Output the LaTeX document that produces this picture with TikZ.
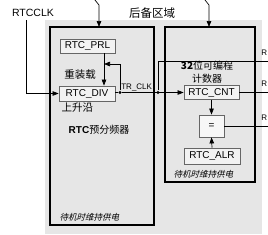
\documentclass[tikz,border=0pt]{standalone}
\usepackage{fontspec}
\setmainfont{Liberation Sans}
\newfontfamily\cjk{Noto Sans CJK SC}
\newfontfamily\cjkit[FakeSlant=0.25]{Noto Sans CJK SC}
\usetikzlibrary{arrows.meta}

\definecolor{bggray}{HTML}{E6E6E6}
\tikzset{
  reg/.style={draw=black!60,fill=black!5,line width=0.8pt,inner sep=0pt,minimum height=14pt,font=\fontsize{10}{12}\selectfont},
  bigbox/.style={draw=black,line width=1.6pt},
  arr/.style={-{Triangle[length=6pt,width=4.5pt]}},
  dot/.style={circle,fill=black,inner sep=0pt,minimum size=3.4pt},
  zh/.style={font=\fontsize{10.5}{12}\selectfont\cjk},
  note/.style={font=\fontsize{8.5}{10}\selectfont\cjkit}
}

\begin{document}
\begin{tikzpicture}[x=1pt,y=-1pt,line width=0.7pt]
  \useasboundingbox (0,0) rectangle (268,234);
  \fill[bggray](45,20) rectangle (262,234);
  \draw[bigbox,fill=bggray](50,27) rectangle (154,225);
  \draw[bigbox,fill=bggray](165,27) rectangle (255,182);
  \node[font=\fontsize{11.5}{13}\selectfont\cjk] (backup) at (152,13){后备区域};
  \draw[arr](95,0)--(99,5)--(99,27);
  \draw[arr](205,0)--(209,5)--(209,27);

  % prescaler
  \node[reg,minimum width=55pt] (prl) at (87.5,46){RTC\_PRL};
  \node[reg,minimum width=56pt,minimum height=15pt] (div) at (87,93.5){RTC\_DIV};
  \node[zh] (reload) at (80,75){重装载};
  \node[zh,anchor=west] (edge) at (58,108){上升沿};
  \node[font=\fontsize{10}{12}\selectfont] (pname) at (99,130){\textbf{RTC}{\cjk 预分频器}};
  \node[note,anchor=west] (lnote) at (56,217){待机时维持供电};
  \node[font=\fontsize{10.5}{12}\selectfont] (rtcclk) at (33,13){RTCCLK};
  \coordinate (fb) at (104,64);
  \draw[arr]([xshift=-7pt]rtcclk.south)|-(div.west);
  \draw[arr](prl.south-|fb)--(div.north-|fb);

  % counter
  \node[reg,minimum width=55pt] (cnt) at (211.5,92.5){RTC\_CNT};
  \node[reg,minimum width=25pt,minimum height=22pt,fill=black!3] (cmp) at (211.5,126){=};
  \node[reg,minimum width=56pt,minimum height=16pt] (alr) at (212,156){RTC\_ALR};
  \node[align=center,font=\fontsize{10}{12.5}\selectfont\cjk] (cname) at (207,72){\textbf{32}位可编程\\计数器};
  \node[note,anchor=west] (rnote) at (170,174){待机时维持供电};
  \draw[arr](cnt.south)--(cmp.north);
  \draw[arr](alr.north)--(cmp.south);

  % TR_CLK
  \node[dot] (d1) at (120,92.5){};
  \node[dot] (d2) at (158,92.5){};
  \node[font=\fontsize{8}{9}\selectfont,anchor=south west,inner sep=1pt] (trclk) at (120,92.5){TR\_CLK};
  \draw(div.east|-d1)--(d1);
  \draw[arr](d1)--(cnt.west);
  \draw[arr](d1)|-(fb);

  % outputs
  \coordinate (o1) at (268,61);
  \coordinate (o2) at (268,92.5);
  \coordinate (o3) at (268,126);
  \draw(d2)|-(o1);
  \draw(cnt.east)--(o2);
  \draw(cmp.east)--(o3);
  \foreach \y/\n in {53/s1,84/s2,118/s3}
    \node[font=\fontsize{8}{9}\selectfont,anchor=west,inner sep=0pt] (\n) at (261,\y){R};
\end{tikzpicture}
\end{document}
